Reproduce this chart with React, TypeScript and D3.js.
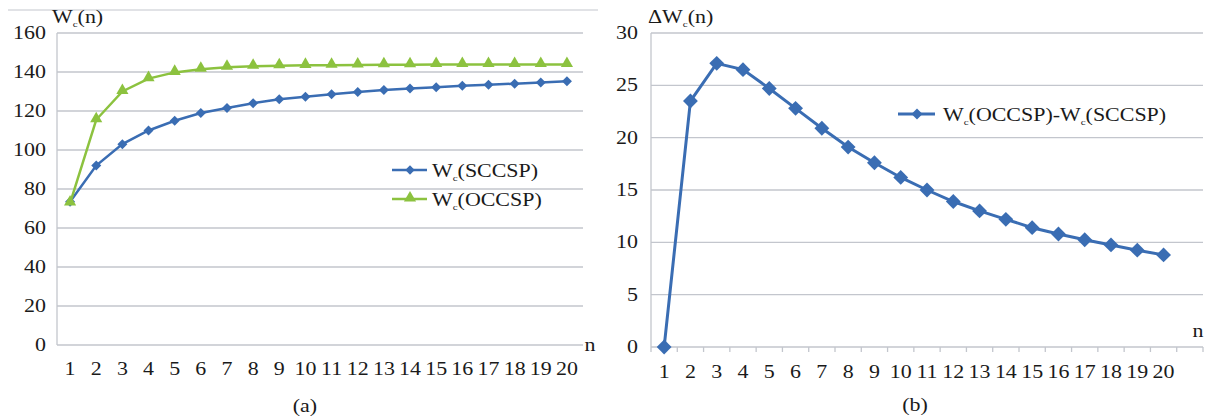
import React from "react";
import * as d3 from "d3";

const categories = Array.from({ length: 20 }, (_, i) => String(i + 1));
const sccsp = [73.5, 92, 103, 110, 115, 119, 121.5, 124, 126, 127.3, 128.6, 129.8, 130.8, 131.6, 132.2, 132.9, 133.5, 134, 134.6, 135.2];
const occsp = [72.8, 115.5, 130, 136.6, 139.8, 141.4, 142.4, 142.9, 143.2, 143.4, 143.5, 143.6, 143.7, 143.7, 143.8, 143.8, 143.8, 143.8, 143.8, 143.8];
const diff = [0, 23.5, 27.1, 26.5, 24.7, 22.8, 20.9, 19.1, 17.6, 16.2, 15.0, 13.9, 13.0, 12.2, 11.4, 10.8, 10.25, 9.75, 9.25, 8.8];
const leftTicks = [0, 20, 40, 60, 80, 100, 120, 140, 160];
const rightTicks = [0, 5, 10, 15, 20, 25, 30];

const BLUE = "#3a6db3";
const GREEN = "#8cc23f";
const GRID = "#c3c6cd";
const FONT = "'Liberation Serif', 'Times New Roman', serif";
const SX = 1.22;

function T({ x, y, children, anchor = "start", size = 18 }: any) {
  return (
    <g transform={`translate(${x},${y}) scale(${SX},1)`}>
      <text x={0} y={0} textAnchor={anchor} fontFamily={FONT} fontSize={size} fill="#1a1a1a">
        {children}
      </text>
    </g>
  );
}

function Wc({ x, y, rest, prefix = "", anchor = "start" }: any) {
  return (
    <g transform={`translate(${x},${y}) scale(${SX},1)`}>
      <text x={0} y={0} textAnchor={anchor} fontFamily={FONT} fontSize={18} fill="#1a1a1a">
        {prefix}W<tspan fontSize={9} dy={4}>c</tspan>
        <tspan dy={-4}>{rest}</tspan>
      </text>
    </g>
  );
}

const diamond = (s: number) => d3.symbol(d3.symbolSquare, s)() as string;
const tri = d3.symbol(d3.symbolTriangle, 64)() as string;

export default function App() {
  // Left panel
  const lx0 = 57, lx1 = 580;
  const xa = d3.scaleBand().domain(categories).range([lx0, lx1]);
  const ya = d3.scaleLinear().domain([0, 160]).range([345, 33]);
  const cxA = (c: string) => (xa(c) as number) + xa.bandwidth() / 2;
  const lineA = (vals: number[]) =>
    d3.line<number>().x((_, i) => cxA(categories[i])).y((v) => ya(v))(vals) as string;

  // Right panel
  const rx0 = 651, rx1 = 1203;
  const catsB = [...categories, ""];
  const xb = d3.scaleBand().domain(catsB.map((c, i) => c || "x" + i)).range([rx0, rx1]);
  const yb = d3.scaleLinear().domain([0, 30]).range([347, 33]);
  const cxB = (c: string) => (xb(c) as number) + xb.bandwidth() / 2;
  const lineB = d3.line<number>().x((_, i) => cxB(categories[i])).y((v) => yb(v))(diff) as string;
  const bandKeys = xb.domain();

  return (
    <svg width={1221} height={419} style={{ position: "absolute", left: 0, top: 0 }}>
      <rect width={1221} height={419} fill="#fff" />
      {/* Left panel */}
      <line x1={8} x2={598} y1={10} y2={10} stroke={GRID} strokeWidth={1} />
      {leftTicks.map((t) => (
        <g key={t}>
          <line x1={lx0} x2={583} y1={ya(t)} y2={ya(t)} stroke={GRID} strokeWidth={1.3} />
          <T x={46} y={ya(t) + 6} anchor="end">{t}</T>
        </g>
      ))}
      <line x1={lx0} x2={lx0} y1={33} y2={345} stroke={GRID} strokeWidth={1.3} />
      {categories.map((c) => (
        <T key={c} x={cxA(c)} y={375} anchor="middle">{c}</T>
      ))}
      <T x={590} y={351} anchor="middle">n</T>
      <Wc x={52} y={23} rest="(n)" />
      <path d={lineA(sccsp)} fill="none" stroke={BLUE} strokeWidth={2.5} />
      <path d={lineA(occsp)} fill="none" stroke={GREEN} strokeWidth={2.5} />
      {sccsp.map((v, i) => (
        <path key={"s" + i} d={diamond(50)} transform={`translate(${cxA(categories[i])},${ya(v)}) rotate(45)`} fill={BLUE} />
      ))}
      {occsp.map((v, i) => (
        <path key={"o" + i} d={tri} transform={`translate(${cxA(categories[i])},${ya(v) - 1})`} fill={GREEN} />
      ))}
      {/* Legend a */}
      <line x1={392} x2={427} y1={170} y2={170} stroke={BLUE} strokeWidth={2.5} />
      <path d={diamond(44)} transform={`translate(410,170) rotate(45)`} fill={BLUE} />
      <Wc x={432} y={177} rest="(SCCSP)" />
      <line x1={392} x2={427} y1={199} y2={199} stroke={GREEN} strokeWidth={2.5} />
      <path d={tri} transform={`translate(410,198)`} fill={GREEN} />
      <Wc x={432} y={206} rest="(OCCSP)" />
      <T x={305} y={412} anchor="middle">(a)</T>

      {/* Right panel */}
      {rightTicks.map((t) => (
        <g key={t}>
          <line x1={rx0} x2={rx1} y1={yb(t)} y2={yb(t)} stroke={GRID} strokeWidth={1.3} />
          <T x={638} y={yb(t) + 6} anchor="end">{t}</T>
        </g>
      ))}
      <line x1={rx0} x2={rx0} y1={33} y2={352} stroke={GRID} strokeWidth={1.3} />
      {bandKeys.map((k) => (
        <line key={k} x1={(xb(k) as number) + xb.bandwidth()} x2={(xb(k) as number) + xb.bandwidth()} y1={347} y2={352} stroke={GRID} strokeWidth={1.3} />
      ))}
      {categories.map((c) => (
        <T key={c} x={cxB(c)} y={378} anchor="middle">{c}</T>
      ))}
      <T x={1198} y={337} anchor="middle">n</T>
      <Wc x={648} y={23} prefix="Δ" rest="(n)" />
      <path d={lineB} fill="none" stroke={BLUE} strokeWidth={3} />
      {diff.map((v, i) => (
        <path key={"d" + i} d={diamond(110)} transform={`translate(${cxB(categories[i])},${yb(v)}) rotate(45)`} fill={BLUE} />
      ))}
      {/* Legend b */}
      <line x1={898} x2={935} y1={114} y2={114} stroke={BLUE} strokeWidth={3} />
      <path d={diamond(60)} transform={`translate(917,114) rotate(45)`} fill={BLUE} />
      <g transform={`translate(943,121) scale(${SX},1)`}>
        <text x={0} y={0} fontFamily={FONT} fontSize={18} fill="#1a1a1a">
          W<tspan fontSize={9} dy={4}>c</tspan>
          <tspan dy={-4}>(OCCSP)-W</tspan>
          <tspan fontSize={9} dy={4}>c</tspan>
          <tspan dy={-4}>(SCCSP)</tspan>
        </text>
      </g>
      <T x={915} y={411} anchor="middle">(b)</T>
    </svg>
  );
}
